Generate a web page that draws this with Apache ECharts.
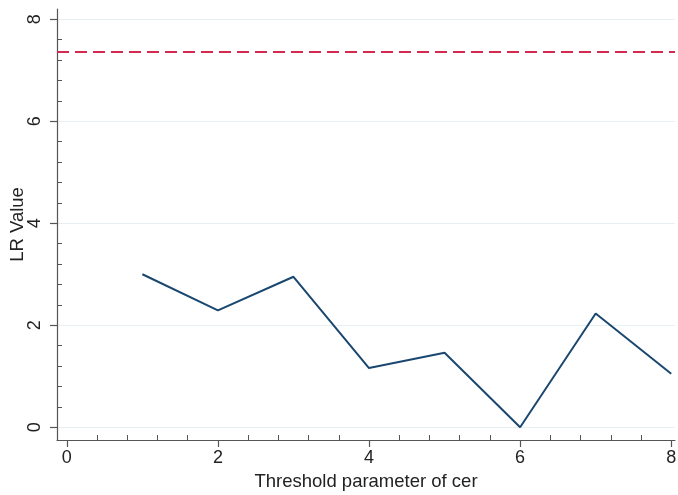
<!DOCTYPE html>
<html><head><meta charset="utf-8">
<script src="https://cdn.jsdelivr.net/npm/echarts@6/dist/echarts.min.js"></script>
<style>html,body{margin:0;padding:0;background:#fff}#c{width:678px;height:495px}</style>
</head><body><div id="c"></div>
<script>
const xValues = [1, 2, 3, 4, 5, 6, 7, 8];
const lrValues = [3.0, 2.29, 2.95, 1.16, 1.46, 0.0, 2.23, 1.05];
const criticalValue = 7.36;
const xTickLabels = [0, 2, 4, 6, 8];
const yTickLabels = [0, 2, 4, 6, 8];
const minorTicks = [0.4, 0.8, 1.2, 1.6, 2.4, 2.8, 3.2, 3.6, 4.4, 4.8, 5.2, 5.6, 6.4, 6.8, 7.2, 7.6];

const font = 'Liberation Sans, Arial, sans-serif';
const axisCol = '#555';
const chart = echarts.init(document.getElementById('c'), null, {renderer: 'canvas'});
const xMin = -0.13, xMax = 8.05, yMin = -0.25, yMax = 8.2;
const gridBox = {left: 57, right: 3, top: 9, bottom: 55, containLabel: false, outerBoundsMode: 'none'};
chart.setOption({
  animation: false,
  grid: [Object.assign({}, gridBox), Object.assign({}, gridBox)],
  xAxis: [{
    gridIndex: 0, type: 'value', min: xMin, max: xMax, position: 'bottom',
    axisLine: {show: true, onZero: false, lineStyle: {color: axisCol, width: 1.2}},
    axisTick: {show: true, customValues: xTickLabels, length: 7, lineStyle: {color: axisCol, width: 1.2}},
    axisLabel: {customValues: xTickLabels, color: '#222', fontSize: 18, fontFamily: font, margin: 9},
    splitLine: {show: false},
    name: 'Threshold parameter of cer', nameLocation: 'middle', nameGap: 32, nameMoveOverlap: false,
    nameTextStyle: {color: '#222', fontSize: 18.5, fontFamily: font}
  }, {
    gridIndex: 1, type: 'value', min: xMin, max: xMax, position: 'bottom', offset: 0,
    axisLine: {show: false, onZero: false},
    axisTick: {show: true, inside: true, customValues: minorTicks, length: 5, lineStyle: {color: axisCol, width: 1}},
    axisLabel: {show: false}, splitLine: {show: false}
  }],
  yAxis: [{
    gridIndex: 0, type: 'value', min: yMin, max: yMax, position: 'left',
    axisLine: {show: true, onZero: false, lineStyle: {color: axisCol, width: 1.2}},
    axisTick: {show: true, customValues: yTickLabels, length: 7, lineStyle: {color: axisCol, width: 1.2}},
    axisLabel: {customValues: yTickLabels, rotate: 90, color: '#222', fontSize: 18, fontFamily: font, margin: 13},
    splitLine: {show: true, lineStyle: {color: '#e6eff1', width: 1.2}},
    name: 'LR Value', nameLocation: 'middle', nameGap: 30, nameRotate: 90, nameMoveOverlap: false,
    nameTextStyle: {color: '#222', fontSize: 18.5, fontFamily: font}
  }, {
    gridIndex: 1, type: 'value', min: yMin, max: yMax, position: 'left', offset: 0,
    axisLine: {show: false, onZero: false},
    axisTick: {show: true, inside: true, customValues: minorTicks, length: 5, lineStyle: {color: axisCol, width: 1}},
    axisLabel: {show: false}, splitLine: {show: false}
  }],
  series: [{
    type: 'line', xAxisIndex: 0, yAxisIndex: 0,
    data: xValues.map((x, i) => [x, lrValues[i]]),
    symbol: 'none',
    lineStyle: {color: '#1a476f', width: 2},
    markLine: {
      silent: true, symbol: ['none', 'none'], label: {show: false},
      lineStyle: {color: '#d42a50', width: 2, type: [12, 6]},
      data: [{yAxis: criticalValue}]
    }
  }]
});
</script></body></html>
